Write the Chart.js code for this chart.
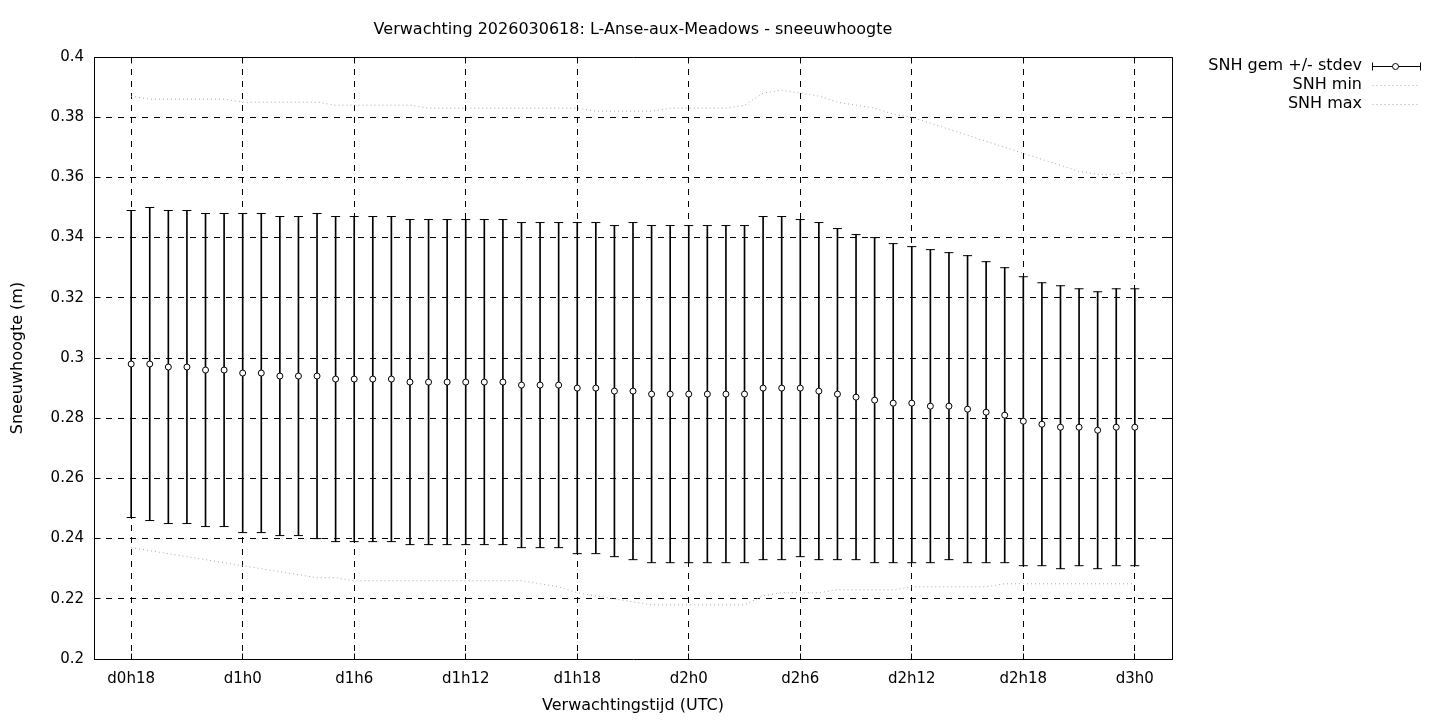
<!DOCTYPE html>
<html><head><meta charset="utf-8">
<script src="https://cdn.jsdelivr.net/npm/chart.js@4.4.1/dist/chart.umd.min.js"></script>
<style>html,body{margin:0;padding:0;background:#fff;}#wrap{width:1440px;height:720px;}</style>
</head><body><div id="wrap"><canvas id="c" width="1440" height="720"></canvas></div>
<script>
// ---- data ----
const leadHours = [18,19,20,21,22,23,24,25,26,27,28,29,30,31,32,33,34,35,36,37,38,39,40,41,42,43,44,45,46,47,48,49,50,51,52,53,54,55,56,57,58,59,60,61,62,63,64,65,66,67,68,69,70,71,72];
const xTickHours = [18,24,30,36,42,48,54,60,66,72];
const yTickValues = [0.2,0.22,0.24,0.26,0.28,0.3,0.32,0.34,0.36,0.38,0.4];
const snhMean = [0.298,0.298,0.297,0.297,0.296,0.296,0.295,0.295,0.294,0.294,0.294,0.293,0.293,0.293,0.293,0.292,0.292,0.292,0.292,0.292,0.292,0.291,0.291,0.291,0.290,0.290,0.289,0.289,0.288,0.288,0.288,0.288,0.288,0.288,0.290,0.290,0.290,0.289,0.288,0.287,0.286,0.285,0.285,0.284,0.284,0.283,0.282,0.281,0.279,0.278,0.277,0.277,0.276,0.277,0.277];
const snhStdevHigh = [0.349,0.350,0.349,0.349,0.348,0.348,0.348,0.348,0.347,0.347,0.348,0.347,0.347,0.347,0.347,0.346,0.346,0.346,0.346,0.346,0.346,0.345,0.345,0.345,0.345,0.345,0.344,0.345,0.344,0.344,0.344,0.344,0.344,0.344,0.347,0.347,0.346,0.345,0.343,0.341,0.340,0.338,0.337,0.336,0.335,0.334,0.332,0.330,0.327,0.325,0.324,0.323,0.322,0.323,0.323];
const snhStdevLow = [0.247,0.246,0.245,0.245,0.244,0.244,0.242,0.242,0.241,0.241,0.240,0.239,0.239,0.239,0.239,0.238,0.238,0.238,0.238,0.238,0.238,0.237,0.237,0.237,0.235,0.235,0.234,0.233,0.232,0.232,0.232,0.232,0.232,0.232,0.233,0.233,0.234,0.233,0.233,0.233,0.232,0.232,0.232,0.232,0.233,0.232,0.232,0.232,0.231,0.231,0.230,0.231,0.230,0.231,0.231];
const snhMin = [0.237,0.236,0.235,0.234,0.233,0.232,0.231,0.230,0.229,0.228,0.227,0.227,0.226,0.226,0.226,0.226,0.226,0.226,0.226,0.226,0.226,0.226,0.225,0.224,0.222,0.221,0.220,0.219,0.218,0.218,0.218,0.218,0.218,0.218,0.221,0.222,0.222,0.222,0.223,0.223,0.223,0.223,0.224,0.224,0.224,0.224,0.224,0.225,0.225,0.225,0.225,0.225,0.225,0.225,0.225];
const snhMax = [0.387,0.386,0.386,0.386,0.386,0.386,0.385,0.385,0.385,0.385,0.385,0.384,0.384,0.384,0.384,0.384,0.383,0.383,0.383,0.383,0.383,0.383,0.383,0.383,0.383,0.382,0.382,0.382,0.382,0.383,0.383,0.383,0.383,0.384,0.388,0.389,0.388,0.387,0.385,0.384,0.383,0.381,0.380,0.378,0.376,0.374,0.372,0.370,0.368,0.366,0.364,0.362,0.361,0.361,0.362];
const seriesLabels = ['SNH gem +/- stdev', 'SNH min', 'SNH max'];
const titleText = 'Verwachting 2026030618: L-Anse-aux-Meadows - sneeuwhoogte';
const xTitleText = 'Verwachtingstijd (UTC)';
const yTitleText = 'Sneeuwhoogte (m)';

// ---- helpers ----
const FONT = '"DejaVu Sans", sans-serif';
const FS = 15;   // tick labels
const FT = 16;   // titles and legend
const pts = arr => leadHours.map((h, i) => ({x: h, y: arr[i]}));
const hourLabel = h => 'd' + Math.floor(h / 24) + 'h' + (h % 24);
const al = p => Math.round(p - 0.5) + 0.5;

const framePlugin = {
  id: 'frame',
  beforeDatasetsDraw(chart) {
    const {ctx, chartArea: a, scales: {x, y}} = chart;
    const L = al(a.left), R = al(a.right), T = al(a.top), B = al(a.bottom);
    ctx.save();
    ctx.strokeStyle = '#000'; ctx.lineWidth = 1; ctx.setLineDash([]);
    ctx.beginPath();
    ctx.rect(L, T, R - L, B - T);
    x.ticks.forEach(t => {
      const p = al(x.getPixelForValue(t.value));
      ctx.moveTo(p, B); ctx.lineTo(p, B - 6);
      ctx.moveTo(p, T); ctx.lineTo(p, T + 6);
    });
    y.ticks.forEach(t => {
      const p = al(y.getPixelForValue(t.value));
      ctx.moveTo(L, p); ctx.lineTo(L + 6, p);
      ctx.moveTo(R, p); ctx.lineTo(R - 6, p);
    });
    ctx.stroke();
    ctx.restore();
  }
};

const legendPlugin = {
  id: 'gnuLegend',
  afterDraw(chart) {
    const {ctx, chartArea: a} = chart;
    const tx = a.right + 190, s0 = a.right + 200.5, s1 = a.right + 248.5;
    const rows = [66, 85, 103.5];
    ctx.save();
    ctx.font = FT + 'px ' + FONT;
    ctx.fillStyle = '#000';
    ctx.textAlign = 'right';
    ctx.textBaseline = 'middle';
    seriesLabels.forEach((lab, i) => ctx.fillText(lab, tx, rows[i]));
    // error-bar sample
    const yy = Math.round(rows[0]) + 0.5;
    ctx.strokeStyle = '#000'; ctx.lineWidth = 1;
    ctx.beginPath();
    ctx.moveTo(s0, yy); ctx.lineTo(s1, yy);
    ctx.moveTo(s0, yy - 4); ctx.lineTo(s0, yy + 4);
    ctx.moveTo(s1, yy - 4); ctx.lineTo(s1, yy + 4);
    ctx.stroke();
    ctx.beginPath();
    ctx.arc((s0 + s1) / 2 - 1, yy, 3, 0, Math.PI * 2);
    ctx.fillStyle = '#fff'; ctx.fill(); ctx.stroke();
    // dotted samples
    ctx.strokeStyle = '#a8a8a8';
    ctx.setLineDash([1, 3]);
    [rows[1], rows[2]].forEach(r => {
      const ry = Math.round(r) + 0.5;
      ctx.beginPath(); ctx.moveTo(s0, ry); ctx.lineTo(s1, ry); ctx.stroke();
    });
    ctx.restore();
  }
};

Chart.defaults.font.family = FONT;
Chart.defaults.font.size = FS;
Chart.defaults.color = '#000';

new Chart(document.getElementById('c'), {
  type: 'line',
  data: {
    datasets: [
      {type: 'line', label: seriesLabels[0], data: pts(snhMean), showLine: false,
       pointStyle: 'circle', pointRadius: 3, pointBackgroundColor: '#fff',
       pointBorderColor: '#000', pointBorderWidth: 1, order: 0},
      {type: 'line', label: 'capHigh', data: pts(snhStdevHigh), showLine: false,
       pointStyle: 'line', pointRadius: 4.5, pointBorderColor: '#000', pointBorderWidth: 1, order: 1},
      {type: 'line', label: 'capLow', data: pts(snhStdevLow), showLine: false,
       pointStyle: 'line', pointRadius: 4.5, pointBorderColor: '#000', pointBorderWidth: 1, order: 1},
      {type: 'bar', label: 'stdev', data: leadHours.map((h, i) => ({x: h, y: [snhStdevLow[i], snhStdevHigh[i]]})),
       backgroundColor: '#000', borderWidth: 0, barThickness: 1, grouped: false, order: 2},
      {type: 'line', label: seriesLabels[1], data: pts(snhMin), borderColor: '#a8a8a8',
       borderWidth: 1, borderDash: [1, 3], pointRadius: 0, tension: 0, order: 3},
      {type: 'line', label: seriesLabels[2], data: pts(snhMax), borderColor: '#a8a8a8',
       borderWidth: 1, borderDash: [1, 3], pointRadius: 0, tension: 0, order: 3}
    ]
  },
  options: {
    responsive: false,
    devicePixelRatio: 1,
    animation: false,
    events: [],
    layout: {padding: {left: 0, top: 0, right: 268, bottom: 0}},
    plugins: {
      legend: {display: false},
      tooltip: {enabled: false},
      title: {display: true, text: titleText, fullSize: false,
              font: {size: FT, weight: 'normal', family: FONT}, color: '#000',
              padding: {top: 20, bottom: 17.8}}
    },
    scales: {
      x: {
        type: 'linear', min: 16, max: 74, offset: false,
        afterBuildTicks: s => { s.ticks = xTickHours.map(v => ({value: v})); },
        afterFit: s => { s.height = 61; },
        ticks: {callback: v => hourLabel(v), padding: 11.5, maxRotation: 0, autoSkip: false, color: '#000'},
        grid: {color: '#000', lineWidth: 1, drawTicks: false, offset: false},
        border: {display: false, dash: [6, 6]},
        title: {display: true, text: xTitleText, color: '#000', font: {size: FT},
                padding: {top: 2, bottom: 4.4}}
      },
      y: {
        type: 'linear', min: 0.2, max: 0.4,
        afterBuildTicks: s => { s.ticks = yTickValues.map(v => ({value: v})); },
        afterFit: s => { s.width = 94; },
        ticks: {callback: v => String(Number(v.toFixed(3))), padding: 10, color: '#000'},
        grid: {color: '#000', lineWidth: 1, drawTicks: false},
        border: {display: false, dash: [6, 6]},
        title: {display: true, text: yTitleText, color: '#000', font: {size: FT},
                padding: {top: 8.4, bottom: 0}}
      }
    }
  },
  plugins: [framePlugin, legendPlugin]
});
</script>
</body></html>
